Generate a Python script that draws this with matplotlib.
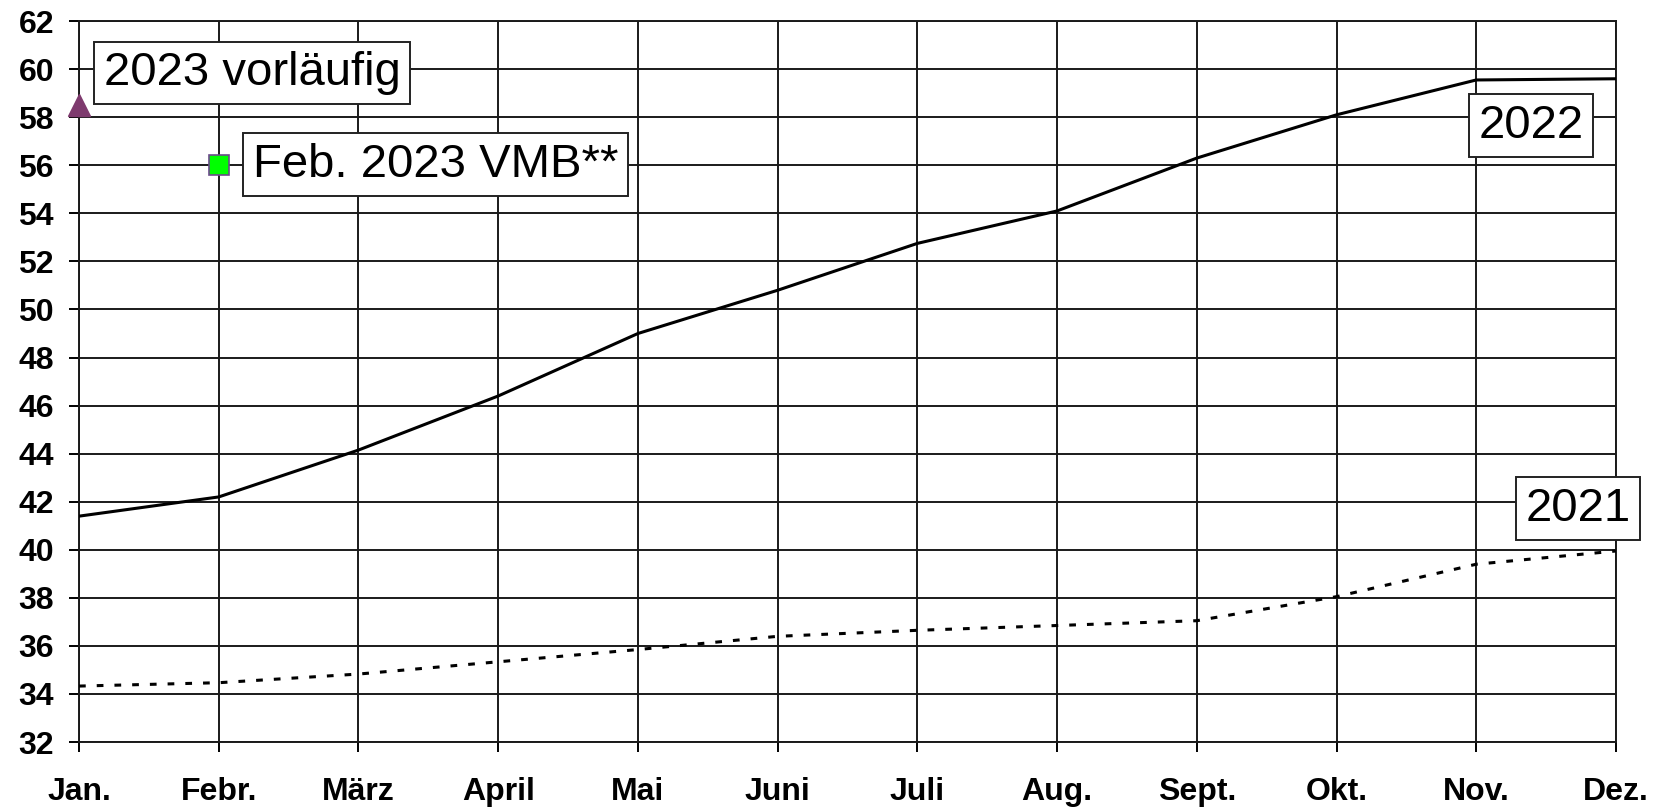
import numpy as np
import matplotlib.pyplot as plt

plt.rcParams['font.family'] = ['Liberation Sans', 'DejaVu Sans']

monate = ['Jan.', 'Febr.', 'März', 'April', 'Mai', 'Juni', 'Juli', 'Aug.',
          'Sept.', 'Okt.', 'Nov.', 'Dez.']
werte_2022 = [41.4, 42.2, 44.15, 46.4, 49.0, 50.8, 52.75, 54.1, 56.3, 58.1, 59.55, 59.6]
werte_2021 = [34.33, 34.47, 34.83, 35.34, 35.85, 36.4, 36.65, 36.85, 37.05, 38.05, 39.4, 39.95]
jan_2023 = 58.5
feb_2023_vmb = 56.0

x = np.arange(len(monate))

fig = plt.figure(figsize=(16.53, 8.11), dpi=100)
ax = fig.add_axes([0.0478, 0.085, 0.9298, 0.889])

ax.plot(x, werte_2022, color='black', lw=2.2, zorder=3)
ax.plot(x, werte_2021, color='black', lw=2.2, linestyle=(0, (2.2, 3.6)), zorder=3)
ax.plot([0], [jan_2023], marker='^', markersize=16, color='#7E3A6E', ls='none',
        clip_on=False, zorder=4)
ax.plot([1], [feb_2023_vmb], marker='s', markersize=15, markerfacecolor='#00FF00',
        markeredgecolor='#6A4A8A', markeredgewidth=1.2, ls='none', zorder=4)

ax.set_xlim(0, 11)
ax.set_ylim(32, 62)
ax.set_xticks(x)
ax.set_xticklabels(monate, fontsize=23, fontweight='bold')
ax.set_yticks(np.arange(32, 63, 2))
ax.tick_params(axis='y', labelsize=23, direction='out', length=7, width=1.4, pad=11)
ax.tick_params(axis='x', direction='out', length=7, width=1.4, pad=18)
for lab in ax.get_yticklabels():
    lab.set_fontweight('bold')

ax.grid(True, color='#1a1a1a', lw=1.4)
for s in ax.spines.values():
    s.set_color('#1a1a1a')
    s.set_linewidth(1.4)

box = dict(boxstyle='square,pad=0.2', facecolor='white', edgecolor='#222222', lw=1.4)
ax.text(1.24, 59.84, '2023 vorläufig', fontsize=34, ha='center', va='center', bbox=box, zorder=5)
ax.text(2.55, 56.03, 'Feb. 2023 VMB**', fontsize=34, ha='center', va='center', bbox=box, zorder=5)
ax.text(10.39, 57.65, '2022', fontsize=34, ha='center', va='center', bbox=box, zorder=5)
ax.text(10.73, 41.71, '2021', fontsize=34, ha='center', va='center', bbox=box, zorder=5,
        clip_on=False)

fig.savefig('out.png', dpi=100)
